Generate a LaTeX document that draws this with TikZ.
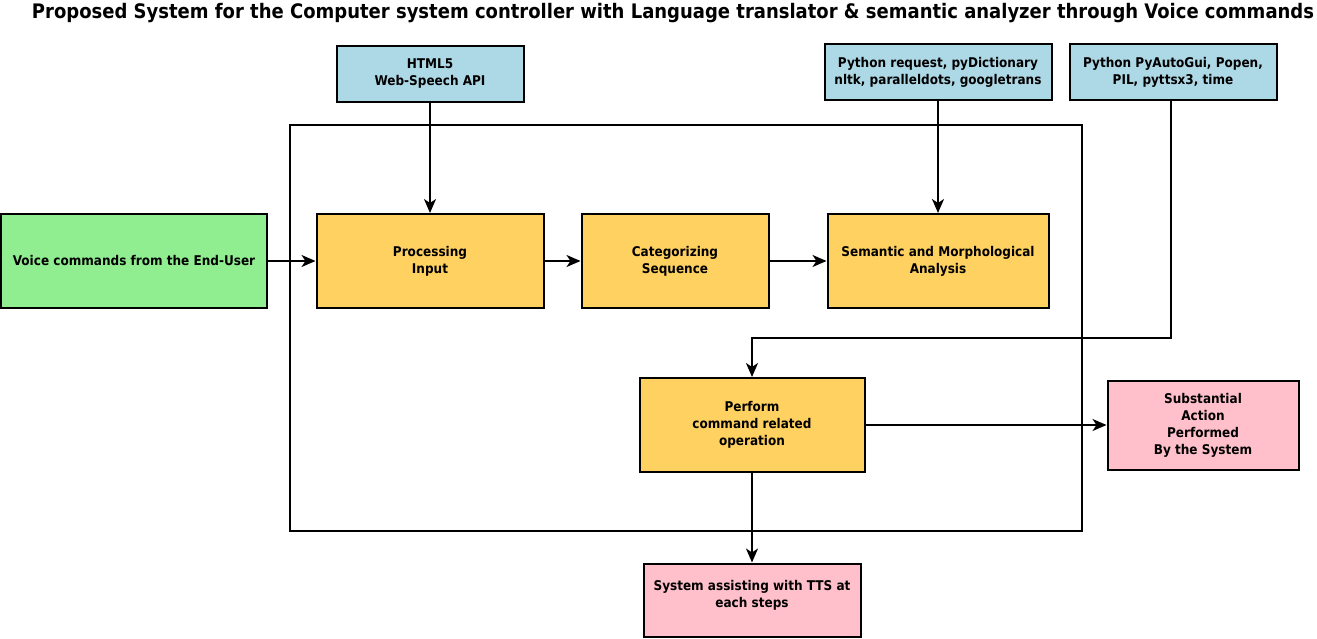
\documentclass[tikz,border=0pt]{standalone}
\usepackage{fontspec}
\setmainfont{DejaVu Sans Condensed}
\usetikzlibrary{arrows.meta}

\definecolor{srcblue}{HTML}{ADD8E6}
\definecolor{usergreen}{HTML}{90EE90}
\definecolor{stepyellow}{HTML}{FFD160}
\definecolor{outpink}{HTML}{FFC0CB}

\begin{document}
\begin{tikzpicture}[x=1pt, y=-1pt,
		box/.style = {draw, line width=2pt, align=center, font=\fontsize{13.4}{17}\selectfont\bfseries},
		srcbox/.style = {box, fill=srcblue},
		userbox/.style = {box, fill=usergreen},
		stepbox/.style = {box, fill=stepyellow},
		outbox/.style = {box, fill=outpink},
		arrow/.style = {line width=2pt, -{Stealth[length=14pt, width=12pt, inset=4pt]}}]
		\useasboundingbox (0, 0) rectangle (1317, 639);

		% title
		\node (title) at (673, 13) {\fontsize{20}{23}\selectfont\bfseries Proposed System for the Computer system controller with Language translator \& semantic analyzer through Voice commands};

		% system frame
		\draw [line width=2pt] (290, 125) rectangle (1082, 531);

		% libraries
		\node [srcbox, minimum width=187, minimum height=56] (html) at (430, 74) {HTML5\\Web-Speech API};
		\node [srcbox, minimum width=227, minimum height=56] (nlp) at (938, 72) {Python request, pyDictionary\\nltk, paralleldots, googletrans};
		\node [srcbox, minimum width=207, minimum height=56] (auto) at (1173, 72) {Python PyAutoGui, Popen,\\PIL, pyttsx3, time};

		% steps
		\node [userbox, minimum width=266, minimum height=93] (voice) at (134, 261) {Voice commands from the End-User};
		\node [stepbox, minimum width=227, minimum height=94] (proc) at (430, 261) {Processing\\Input};
		\node [stepbox, minimum width=187, minimum height=94] (cat) at (675, 261) {Categorizing\\Sequence};
		\node [stepbox, minimum width=221, minimum height=94] (sem) at (938, 261) {Semantic and Morphological\\Analysis};
		\node [stepbox, minimum width=225, minimum height=94] (perf) at (752, 425) {Perform\\command related\\operation};
		\node [outbox, minimum width=191, minimum height=89] (act) at (1203, 425) {Substantial\\Action\\Performed\\By the System};
		\node [outbox, minimum width=217, minimum height=73, text depth=12pt] (tts) at (752, 600) {System assisting with TTS at\\each steps};

		\coordinate (bend) at (1171, 338);

		% connectors
		\draw [arrow] (html) -- (proc);
		\draw [arrow] (nlp) -- (sem);
		\draw [arrow] (auto.south -| bend) -- (bend) -| (perf.north);
		\draw [arrow] (voice) -- (proc);
		\draw [arrow] (proc) -- (cat);
		\draw [arrow] (cat) -- (sem);
		\draw [arrow] (perf) -- (act);
		\draw [arrow] (perf) -- (tts);
	\end{tikzpicture}
\end{document}
